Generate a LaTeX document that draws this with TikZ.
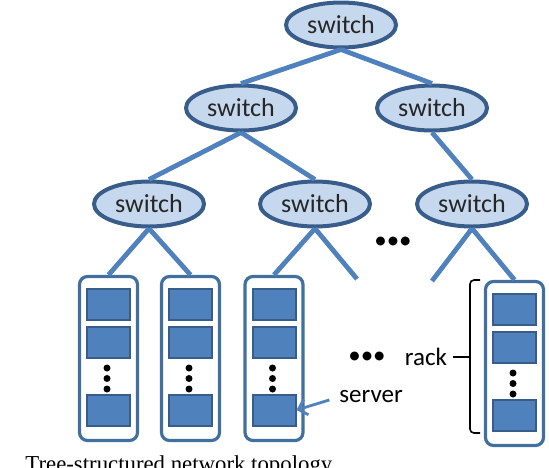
\documentclass[tikz,border=0pt]{standalone}
\usepackage{fontspec}
\setmainfont{Carlito}
\newfontfamily\capfont{Liberation Serif}
\usetikzlibrary{shapes.geometric,arrows.meta}
\definecolor{swfill}{HTML}{C6D8EE}
\definecolor{swline}{HTML}{385D8A}
\definecolor{wire}{HTML}{4F81BD}
\definecolor{rackline}{HTML}{41709F}
\tikzset{
	switch/.style={ellipse,draw=swline,line width=2pt,fill=swfill,inner sep=0pt,
		minimum width=55pt,minimum height=22.5pt,text=black!85,
		font=\fontsize{13}{15}\selectfont},
	rack/.style={rectangle,rounded corners=4pt,draw=rackline,line width=1.6pt,fill=white,
		minimum width=29pt,minimum height=82pt,inner sep=0pt},
	srv/.style={rectangle,draw=swline,line width=1pt,fill=wire,
		minimum width=21.5pt,minimum height=15.5pt,inner sep=0pt},
	link/.style={wire,line width=2.4pt},
	lbl/.style={font=\fontsize{12.5}{14}\selectfont,inner sep=0pt}
}
\begin{document}
\begin{tikzpicture}[x=0.5pt,y=-0.5pt]
	\useasboundingbox (0,0) rectangle (549,467);
	\node[switch] (top) at (341,25) {switch};
	\node[switch] (sw21) at (241,108) {switch};
	\node[switch] (sw22) at (432,108) {switch};
	\node[switch] (sw31) at (149,204) {switch};
	\node[switch] (sw32) at (315,204) {switch};
	\node[switch] (sw33) at (472,204) {switch};
	\foreach \r/\x/\t in {1/108.5/275,2/190.5/275,3/274/275,4/514.5/280}{
		\node[rack] (rack\r) at (\x,\t+83.5) {};
		\node[srv] (srv\r1) at (\x,\t+29) {};
		\node[srv] (srv\r2) at (\x,\t+67.5) {};
		\node[srv] (srv\r3) at (\x,\t+135) {};
		\foreach \d in {93,103.5,114}
			\fill (\x-1.5,\t+\d) circle (1.75pt);
	}
	\coordinate (open1) at (357,279);
	\coordinate (open2) at (432,281);
	\draw[link] (top.south) -- (sw21.north);
	\draw[link] (top.south) -- (sw22.north);
	\draw[link] (sw21.south) -- (sw31.north);
	\draw[link] (sw21.south) -- (sw32.north);
	\draw[link] (sw22.south) -- (sw33.north);
	\draw[link] (sw31.south) -- (rack1.north);
	\draw[link] (sw31.south) -- (rack2.north);
	\draw[link] (sw32.south) -- (rack3.north);
	\draw[link] (sw32.south) -- (open1);
	\draw[link] (sw33.south) -- (open2);
	\draw[link] (sw33.south) -- (rack4.north);
	\node[lbl] (more1) at (393,243) {•••};
	\node[lbl] (more2) at (367,358) {•••};
	\node[lbl] (racklbl) at (426,357) {rack};
	\node[lbl] (srvlbl) at (371,397) {server};
	\coordinate (brtop) at (480,280);
	\coordinate (brbot) at (480,433);
	\coordinate (brmid) at (470,357);
	\draw[line width=0.8pt,rounded corners=2pt] (brtop) -- (470,280) -- (470,433) -- (brbot);
	\draw[line width=0.8pt] (brmid) -- ([xshift=3pt]racklbl.east);
	\draw[wire,line width=1.4pt,-{Straight Barb[length=4pt,width=8pt]},shorten <=5pt]
		(srvlbl.west) -- (srv33.east);
	\node[anchor=base west,inner sep=0pt,font=\capfont\fontsize{11.4}{13}\selectfont] (caption)
		at (25,471) {Tree-structured network topology};
\end{tikzpicture}
\end{document}
